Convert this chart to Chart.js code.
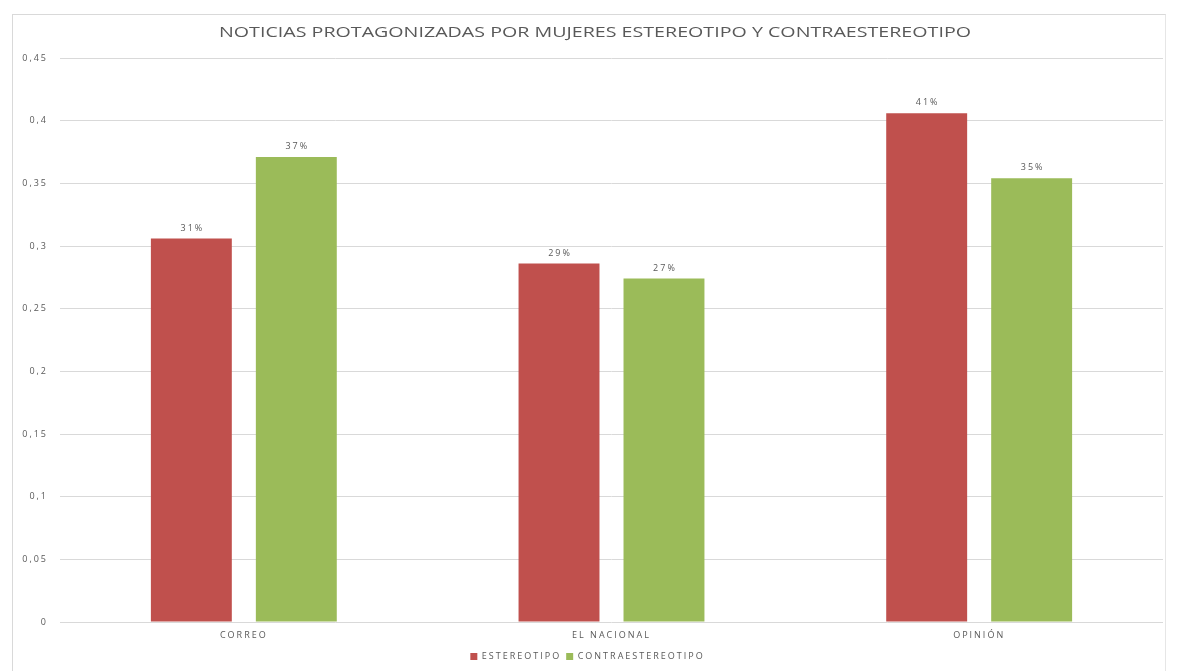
<!DOCTYPE html>
<html><head><meta charset="utf-8">
<script src="https://cdn.jsdelivr.net/npm/chart.js@4/dist/chart.umd.min.js"></script>
<style>
html,body{margin:0;padding:0;background:#fff;}
#wrap{position:relative;width:1179px;height:671px;}
#frame{position:absolute;left:12px;top:14px;width:1154px;height:660px;border-left:1px solid #d9d9d9;border-top:1px solid #d9d9d9;border-right:1px solid #e6e6e6;box-sizing:border-box;}
canvas{position:absolute;left:0;top:0;}
</style></head>
<body><div id="wrap"><div id="frame"></div><canvas id="c" width="1179" height="671"></canvas></div>
<script>
const categories = ["CORREO", "EL NACIONAL", "OPINIÓN"];
const estereotipo = [0.306, 0.286, 0.406];
const contraestereotipo = [0.371, 0.274, 0.354];
const seriesNames = ["ESTEREOTIPO", "CONTRAESTEREOTIPO"];
const yTicks = [0, 0.05, 0.1, 0.15, 0.2, 0.25, 0.3, 0.35, 0.4, 0.45];
const titleText = "NOTICIAS PROTAGONIZADAS POR MUJERES ESTEREOTIPO Y CONTRAESTEREOTIPO";

const FONT = "'Open Sans', 'Liberation Sans', sans-serif";
const GREY = "#595959";
const SPACING = '2px';

const spacingPlugin = {
  id: 'spacing',
  beforeUpdate(chart) { chart.ctx.letterSpacing = SPACING; },
  beforeLayout(chart) { chart.ctx.letterSpacing = SPACING; },
  beforeDraw(chart) { chart.ctx.letterSpacing = SPACING; }
};

const titleAndLabels = {
  id: 'titleAndLabels',
  afterDatasetsDraw(chart) {
    const ctx = chart.ctx;
    ctx.save();
    ctx.letterSpacing = SPACING;
    ctx.font = "9px " + FONT;
    ctx.fillStyle = GREY;
    ctx.textAlign = 'center';
    ctx.textBaseline = 'bottom';
    chart.data.datasets.forEach((ds, i) => {
      chart.getDatasetMeta(i).data.forEach((bar, j) => {
        ctx.fillText(Math.round(ds.data[j] * 100) + '%', bar.x + 1, bar.y - 6);
      });
    });
    ctx.restore();
  },
  afterDraw(chart) {
    const ctx = chart.ctx;
    ctx.save();
    ctx.letterSpacing = '0px';
    ctx.font = "15px " + FONT;
    ctx.fillStyle = GREY;
    ctx.textAlign = 'center';
    ctx.textBaseline = 'middle';
    ctx.translate(595, 33);
    ctx.scale(1.31, 1);
    ctx.fillText(titleText, 0, 0);
    ctx.restore();
  }
};

new Chart(document.getElementById('c'), {
  type: 'bar',
  data: {
    labels: categories,
    datasets: [
      { label: seriesNames[0], data: estereotipo, backgroundColor: '#C0504D' },
      { label: seriesNames[1], data: contraestereotipo, backgroundColor: '#9BBB59' }
    ]
  },
  options: {
    responsive: false,
    animation: false,
    devicePixelRatio: 1,
    categoryPercentage: 0.571,
    barPercentage: 0.771,
    layout: { padding: { left: 12, right: 16, top: 58, bottom: 0 } },
    plugins: {
      title: { display: false },
      legend: {
        position: 'bottom',
        labels: {
          color: GREY, font: { family: FONT, size: 9 },
          boxWidth: 7, boxHeight: 7, padding: 5
        }
      },
      tooltip: { enabled: false }
    },
    scales: {
      x: {
        grid: { display: false },
        border: { display: false },
        ticks: { color: GREY, font: { family: FONT, size: 9 }, padding: 0 },
        afterFit(s) { s.height = 25; }
      },
      y: {
        min: 0, max: 0.45,
        afterBuildTicks(s) { s.ticks = yTicks.map(v => ({ value: v })); },
        grid: { color: '#d9d9d9', drawTicks: false },
        border: { display: false },
        ticks: {
          color: GREY, font: { family: FONT, size: 9 }, padding: 12,
          callback: v => String(Math.round(v * 100) / 100).replace('.', ',')
        },
        afterFit(s) { s.width = 48; }
      }
    }
  },
  plugins: [spacingPlugin, titleAndLabels]
});
</script></body></html>
